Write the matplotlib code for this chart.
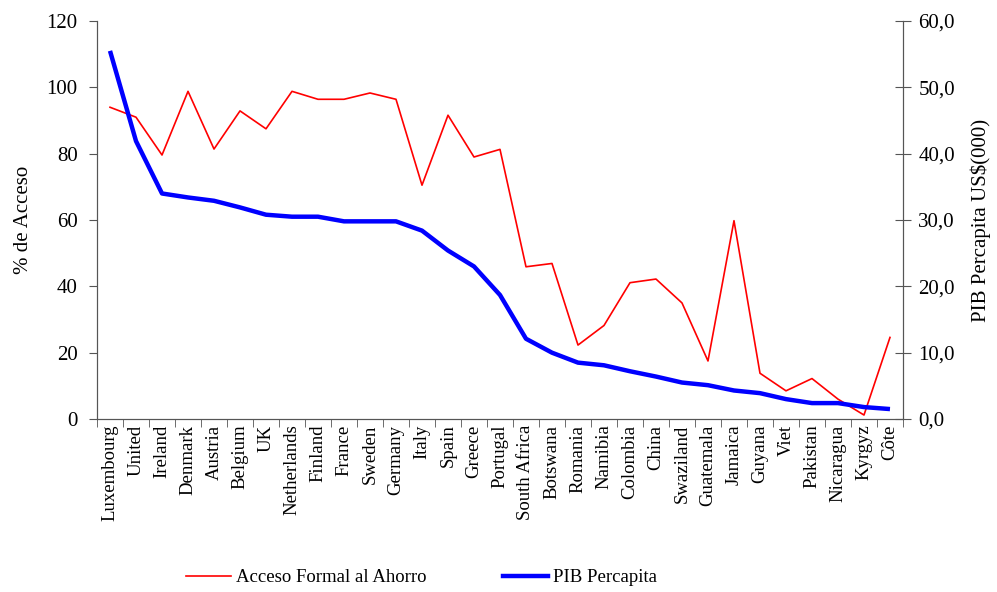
import matplotlib.pyplot as plt
from matplotlib.ticker import FuncFormatter, FixedLocator
from matplotlib.lines import Line2D

plt.rcParams['font.family'] = ['Liberation Serif', 'DejaVu Serif']

paises = ["Luxembourg", "United", "Ireland", "Denmark", "Austria", "Belgium", "UK",
          "Netherlands", "Finland", "France", "Sweden", "Germany", "Italy", "Spain",
          "Greece", "Portugal", "South Africa", "Botswana", "Romania", "Namibia",
          "Colombia", "China", "Swaziland", "Guatemala", "Jamaica", "Guyana", "Viet",
          "Pakistan", "Nicaragua", "Kyrgyz", "Côte"]

# % de acceso formal al ahorro (eje izquierdo)
acceso = [94.0, 91.0, 79.6, 98.8, 81.4, 92.9, 87.5, 98.8, 96.4, 96.4, 98.3, 96.4,
          70.5, 91.6, 79.0, 81.3, 45.9, 46.9, 22.3, 28.2, 41.1, 42.2, 35.0, 17.5,
          59.8, 13.8, 8.5, 12.2, 6.0, 1.2, 24.6]

# PIB per capita en miles de US$ (eje derecho)
pib = [55.5, 41.9, 34.0, 33.4, 32.9, 31.9, 30.8, 30.5, 30.5, 29.8, 29.8, 29.8,
       28.4, 25.4, 23.0, 18.7, 12.1, 10.0, 8.5, 8.1, 7.2, 6.4, 5.5, 5.1,
       4.3, 3.9, 3.0, 2.4, 2.4, 1.8, 1.5]

x = list(range(len(paises)))
fs = 15

fig = plt.figure(figsize=(9.97, 5.92), dpi=100)
ax = fig.add_axes([0.0973, 0.2922, 0.8084, 0.6723])
ax2 = ax.twinx()

ax.plot(x, acceso, color="red", lw=1.2)
ax2.plot(x, pib, color="blue", lw=3.2, solid_capstyle="butt")

ax.set_xlim(-0.5, len(paises) - 0.5)
ax.set_ylim(0, 120)
ax2.set_ylim(0, 60)
ax.set_yticks(range(0, 121, 20))
ax2.set_yticks(range(0, 61, 10))
ax2.yaxis.set_major_formatter(FuncFormatter(lambda v, p: f"{v:.1f}".replace(".", ",")))

ax.set_xticks(x)
ax.set_xticklabels(paises, rotation=90, fontsize=13.5)
ax.tick_params(axis="x", which="major", length=0, pad=4)
ax.xaxis.set_minor_locator(FixedLocator([i + 0.5 for i in range(-1, len(paises))]))
ax.tick_params(axis="x", which="minor", length=6, direction="out", color="#555555")

ax.tick_params(axis="y", labelsize=fs, length=6, pad=8, direction="out", color="#555555")
ax2.tick_params(axis="y", labelsize=fs, length=12, pad=5, direction="inout", color="#555555")

for a in (ax, ax2):
    a.spines["top"].set_visible(False)
    for s in ("left", "right", "bottom"):
        a.spines[s].set_color("#555555")

ax.set_ylabel("% de Acceso", fontsize=fs, labelpad=10)
ax2.set_ylabel("PIB Percapita US$(000)", fontsize=fs, labelpad=11)

handles = [Line2D([], [], color="red", lw=1.2), Line2D([], [], color="blue", lw=3.2)]
fig.legend(handles, ["Acceso Formal al Ahorro", "PIB Percapita"], loc="center",
           bbox_to_anchor=(0.423, 0.024), ncol=2, frameon=False, fontsize=13.5,
           columnspacing=4.1, handlelength=2.4, handletextpad=0.25)

fig.savefig("out.png", dpi=100)
